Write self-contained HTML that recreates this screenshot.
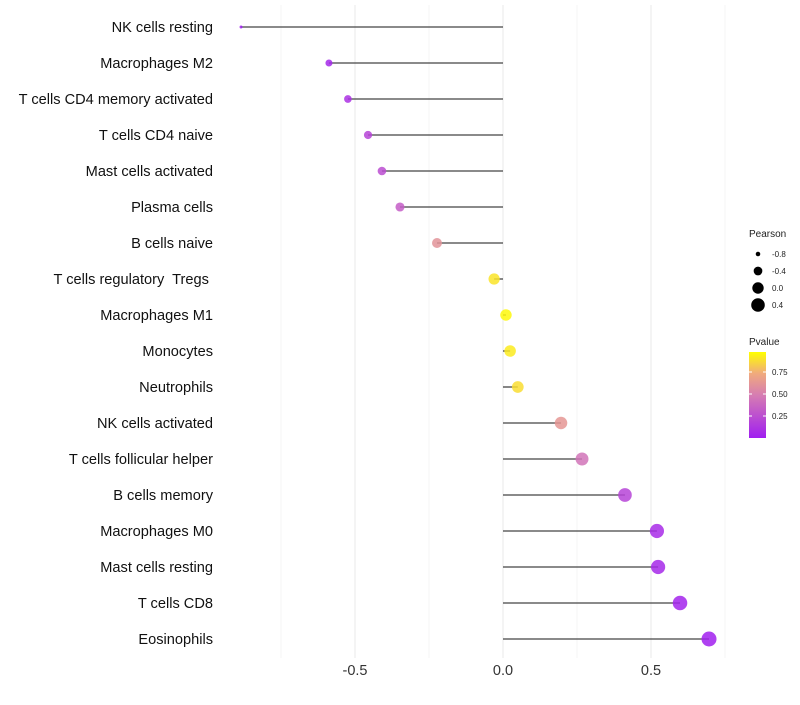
<!DOCTYPE html>
<html><head><meta charset="utf-8"><style>
body{margin:0;background:#fff;font-family:"Liberation Sans",sans-serif}
</style></head><body>
<svg id="chart" width="800" height="700" xmlns="http://www.w3.org/2000/svg" font-family="Liberation Sans, sans-serif"></svg>
<script>
const categories=["NK cells resting","Macrophages M2","T cells CD4 memory activated","T cells CD4 naive","Mast cells activated","Plasma cells","B cells naive","T cells regulatory  Tregs ","Macrophages M1","Monocytes","Neutrophils","NK cells activated","T cells follicular helper","B cells memory","Macrophages M0","Mast cells resting","T cells CD8","Eosinophils"];
const pearson=[-0.885,-0.588,-0.524,-0.456,-0.409,-0.348,-0.223,-0.03,0.01,0.024,0.05,0.196,0.267,0.412,0.52,0.524,0.598,0.696];
const pvalues=[0.0,0.05,0.1,0.2,0.25,0.33,0.62,0.92,0.98,0.94,0.9,0.64,0.45,0.2,0.07,0.06,0.03,0.01];
const xTicks=[-0.5,0,0.5];
const xTickLabels=["-0.5","0.0","0.5"];
const xMinor=[-0.75,-0.25,0.25,0.75];
const legSizes=[-0.8,-0.4,0.0,0.4];
const legSizeLabels=["-0.8","-0.4","0.0","0.4"];
const legColTicks=[0.25,0.5,0.75];
const legColLabels=["0.25","0.50","0.75"];

const svg=document.getElementById('chart');
const NS="http://www.w3.org/2000/svg";
const xS=v=>503+v*296;
const yS=i=>27+i*36;
const rS=v=>Math.sqrt(Math.max(2.25,2.25+34.2*(v+0.885)));
const stops=[[0,[160,30,240]],[0.5,[214,125,178]],[0.75,[240,170,125]],[1,[255,255,0]]];
function col(p){for(let i=1;i<stops.length;i++){if(p<=stops[i][0]){const a=stops[i-1],b=stops[i],t=(p-a[0])/(b[0]-a[0]);return 'rgb('+a[1].map((c,k)=>Math.round(c+(b[1][k]-c)*t)).join(',')+')';}}return 'rgb(255,255,0)';}
function el(t,a,txt){const e=document.createElementNS(NS,t);for(const k in a)e.setAttribute(k,a[k]);if(txt!==undefined)e.textContent=txt;svg.appendChild(e);return e;}

xMinor.forEach(v=>{const g=el('line',{x1:xS(v),x2:xS(v),y1:5,y2:658,stroke:'#f0f0f0','stroke-width':0.6});

});
xTicks.forEach((v,i)=>{const g=el('line',{x1:xS(v),x2:xS(v),y1:5,y2:658,stroke:'#ebebeb','stroke-width':1.1});


const t=el('text',{x:xS(v),y:675,'text-anchor':'middle','font-size':14.5,fill:'#333'},xTickLabels[i]);

});

categories.forEach((c,i)=>{
const y=yS(i);
const t=el('text',{x:213,y:y+5,'text-anchor':'end','font-size':14.6,fill:'#111','xml:space':'preserve'},c);
t.setAttribute('style','white-space:pre');


const l=el('line',{x1:xS(0),x2:xS(pearson[i]),y1:y,y2:y,stroke:'#444','stroke-width':1.3});


const p=el('circle',{cx:xS(pearson[i]),cy:y,r:rS(pearson[i]),fill:col(pvalues[i]),'fill-opacity':0.85});


});

let tt=el('text',{x:749,y:237,'font-size':10,fill:'#222'},'Pearson');


legSizes.forEach((v,i)=>{const y=254+i*17;
const c=el('circle',{cx:758,cy:y,r:rS(v),fill:'#000'});


const t=el('text',{x:772,y:y+3,'font-size':8,fill:'#222'},legSizeLabels[i]);

});

tt=el('text',{x:749,y:345,'font-size':10,fill:'#222'},'Pvalue');


const defs=el('defs',{});
const lg=document.createElementNS(NS,'linearGradient');lg.setAttribute('id','pg');lg.setAttribute('x1',0);lg.setAttribute('y1',1);lg.setAttribute('x2',0);lg.setAttribute('y2',0);
stops.forEach(s=>{const st=document.createElementNS(NS,'stop');st.setAttribute('offset',s[0]);st.setAttribute('stop-color','rgb('+s[1].join(',')+')');lg.appendChild(st);});
defs.appendChild(lg);
const bar=el('rect',{x:749,y:352,width:17,height:86,fill:'url(#pg)'});


legColTicks.forEach((v,i)=>{const y=438-v*88;
el('line',{x1:749,x2:752,y1:y,y2:y,stroke:'#fff'});el('line',{x1:763,x2:766,y1:y,y2:y,stroke:'#fff'});
const t=el('text',{x:772,y:y+3,'font-size':8,fill:'#222'},legColLabels[i]);

});
</script>
</body></html>
